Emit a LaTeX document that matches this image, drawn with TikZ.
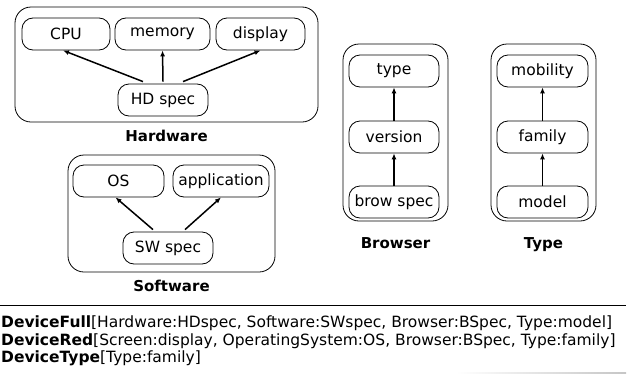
\documentclass[tikz,border=0pt]{standalone}
\usepackage{fontspec}
\setmainfont{DejaVu Sans}
\usetikzlibrary{arrows.meta,positioning}

\begin{document}
\begin{tikzpicture}[x=1pt, y=-1pt,
box/.style={draw, rounded corners=11pt, minimum width=90pt, minimum height=32pt, inner sep=1pt, font=\fontsize{15.5}{18}\selectfont, line width=0.8pt},
group/.style={draw, rounded corners=16pt, line width=0.8pt},
grouplabel/.style={font=\fontsize{15}{18}\selectfont\bfseries, inner sep=1pt},
arrow/.style={-{Latex[length=6pt,width=5pt]}, line width=1.5pt},
specline/.style={anchor=west, inner sep=1pt, font=\fontsize{15.5}{18}\selectfont}
]
\useasboundingbox (0,0) rectangle (636,375);
% hardware
\node[group, minimum width=303pt, minimum height=115pt] (hw) at (166.5,64.5) {};
\node[box, minimum width=88pt] (cpu) at (66,34) {CPU};
\node[box, minimum width=95pt] (memory) at (162.5,34) {memory};
\node[box, minimum width=89pt] (display) at (260.5,34) {display};
\node[box] (hdspec) at (163,100) {HD spec};
\node[grouplabel, below=6pt of hw] (hwlabel) {Hardware};
\draw[arrow] ([xshift=-20pt, yshift=2pt]hdspec.north) -- ([xshift=-3pt]cpu.south);
\draw[arrow] ([yshift=2pt]hdspec.north) -- (memory.south);
\draw[arrow] ([xshift=20pt, yshift=2pt]hdspec.north) -- (display.south);
% software
\node[group, minimum width=207pt, minimum height=117pt] (sw) at (171.5,213.5) {};
\node[box, minimum width=91pt] (os) at (118.5,181) {OS};
\node[box, minimum width=96pt] (app) at (221,181) {application};
\node[box] (swspec) at (168,248) {SW spec};
\node[grouplabel, below=6pt of sw] (swlabel) {Software};
\draw[arrow] ([xshift=-15pt, yshift=2pt]swspec.north) -- ([xshift=-3pt]os.south);
\draw[arrow] ([xshift=17pt, yshift=2pt]swspec.north) -- (app.south);
% browser
\node[group, minimum width=105pt, minimum height=177pt] (browser) at (395.5,132.5) {};
\node[box] (btype) at (394,71) {type};
\node[box] (version) at (394,137) {version};
\node[box] (browspec) at (394,202) {brow spec};
\node[grouplabel, below=15pt of browser] (browlabel) {Browser};
\draw[arrow] (version) -- (btype);
\draw[arrow] (browspec) -- (version);
% type
\node[group, minimum width=105pt, minimum height=177pt] (type) at (543.5,132.5) {};
\node[box, minimum width=91pt] (mobility) at (542.5,71) {mobility};
\node[box, minimum width=91pt] (family) at (542.5,137) {family};
\node[box, minimum width=91pt] (model) at (542.5,202) {model};
\node[grouplabel, below=15pt of type] (typelabel) {Type};
\draw[arrow] (family) -- (mobility);
\draw[arrow] (model) -- (family);
% device specs
\draw[line width=1pt] (0,305) -- (626,305);
\node[specline] (fullspec) at (0,323) {\textbf{DeviceFull}[Hardware:HDspec, Software:SWspec, Browser:BSpec, Type:model]};
\node[specline] (redspec) at (0,341) {\textbf{DeviceRed}[Screen:display, OperatingSystem:OS, Browser:BSpec, Type:family]};
\node[specline] (typespec) at (0,358) {\textbf{DeviceType}[Type:family]};
\shade[left color=white, right color=gray!45] (456,372.5) rectangle (626,373.5);
\end{tikzpicture}
\end{document}
